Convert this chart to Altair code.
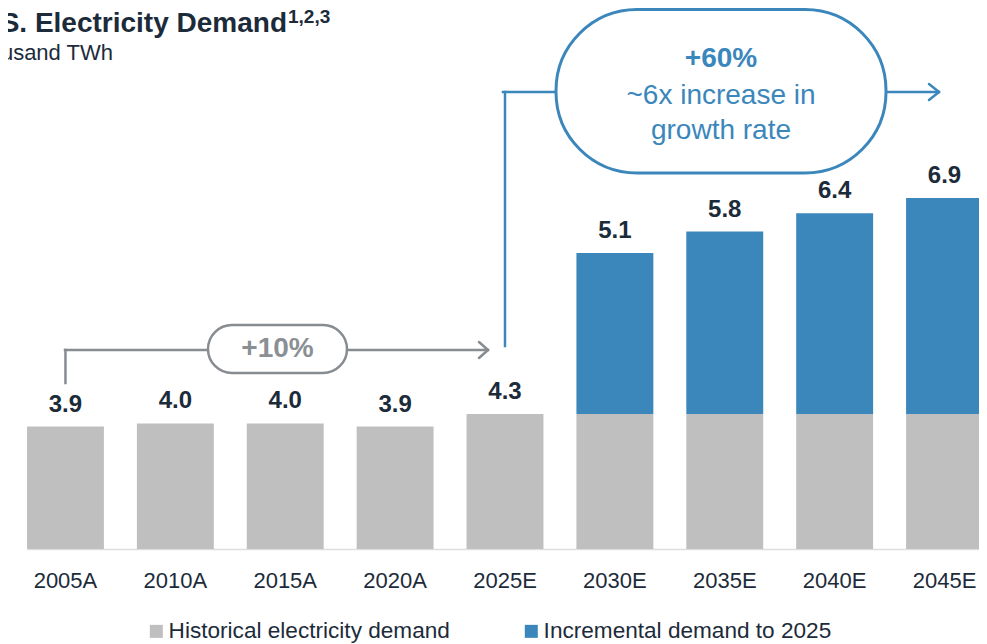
import altair as alt
import pandas as pd

# ---- data ----
years = ["2005A", "2010A", "2015A", "2020A", "2025E", "2030E", "2035E", "2040E", "2045E"]
totals = [3.9, 4.0, 4.0, 3.9, 4.3, 5.1, 5.8, 6.4, 6.9]
base_2025 = 4.3
series = ["Historical electricity demand", "Incremental demand to 2025"]
series_colors = ["#bfbfbf", "#3b87bb"]

# the source chart is not drawn to a single linear scale: piecewise scale breakpoints
y_domain = [0, 4.3, 5.1, 6.9]
y_range = [541, 406, 245, 190]

F = "Liberation Sans"
NAVY = "#1c2b3a"
GRAY = "#878c91"
BLUE = "#3b87bb"

rows = []
for yr, t in zip(years, totals):
    h = min(t, base_2025)
    rows.append({"year": yr, "series": series[0], "start": 0.0, "end": h})
    if t > base_2025:
        rows.append({"year": yr, "series": series[1], "start": base_2025, "end": t})
seg = pd.DataFrame(rows)
lab = pd.DataFrame({"year": years, "total": totals})
one = pd.DataFrame({"k": [0]})

xscale = alt.Scale(range=[19, 975], paddingInner=0.3, paddingOuter=0, round=False)
yscale = alt.Scale(domain=y_domain, range=y_range, zero=False, nice=False)

X = alt.X("year:N", sort=years, scale=xscale,
          axis=alt.Axis(title=None, labelAngle=0, ticks=False, tickSize=0, labelPadding=21,
                        labelFontSize=22, labelFont=F, labelColor=NAVY,
                        domainColor="#dedede", domainWidth=1.5, grid=False))

bars = alt.Chart(seg).mark_bar().encode(
    x=X,
    y=alt.Y("start:Q", scale=yscale, axis=None),
    y2="end:Q",
    color=alt.Color("series:N",
                    scale=alt.Scale(domain=series, range=series_colors),
                    legend=alt.Legend(orient="none", legendX=137, legendY=612,
                                      direction="horizontal", title=None,
                                      symbolType="square", symbolSize=169,
                                      symbolStrokeWidth=0, labelFontSize=22.6,
                                      labelFont=F, labelColor=NAVY,
                                      columnPadding=70, labelOffset=1,
                                      labelLimit=600, padding=0)),
)

labels = alt.Chart(lab).mark_text(
    dy=-15, baseline="alphabetic", fontSize=24, fontWeight="bold", font=F, color=NAVY
).encode(
    x=alt.X("year:N", sort=years),
    y=alt.Y("total:Q"),
    text=alt.Text("total:Q", format=".1f"),
)


def rule(color, x1, x2, y1, y2, cap="square"):
    return alt.Chart(one).mark_rule(color=color, strokeWidth=2.5, strokeCap=cap).encode(
        x=alt.value(x1), x2=alt.value(x2), y=alt.value(y1), y2=alt.value(y2))


def vrule(color, year, y1, y2):
    return alt.Chart(pd.DataFrame({"year": [year]})).mark_rule(
        color=color, strokeWidth=2.5, strokeCap="square").encode(
        x=alt.X("year:N", sort=years), y=alt.value(y1), y2=alt.value(y2))


def pill(color, x1, x2, y1, y2, r, sw):
    return alt.Chart(one).mark_rect(cornerRadius=r, fill="white", stroke=color,
                                    strokeWidth=sw).encode(
        x=alt.value(x1), x2=alt.value(x2), y=alt.value(y1), y2=alt.value(y2))


def txt(s, x, y, size, color, weight="normal", align="center"):
    return alt.Chart(one).mark_text(text=s, align=align, baseline="alphabetic",
                                    fontSize=size, fontWeight=weight, font=F,
                                    color=color).encode(x=alt.value(x), y=alt.value(y))


annot = [
    # +10% bracket
    vrule(GRAY, "2005A", 375, 342),
    rule(GRAY, 57, 200, 342, 342),
    rule(GRAY, 339, 480, 342, 342),
    rule(GRAY, 471, 480, 334, 342, "round"),
    rule(GRAY, 471, 480, 350, 342, "round"),
    pill(GRAY, 200, 339, 317, 365, 24, 2.5),
    txt("+10%", 269.5, 349, 28, "#8a8f94", "bold"),
    # +60% bracket
    vrule(BLUE, "2025E", 338, 84),
    rule(BLUE, 495, 548, 84, 84),
    rule(BLUE, 878, 931, 84, 84),
    rule(BLUE, 921, 931, 76, 84, "round"),
    rule(BLUE, 921, 931, 92, 84, "round"),
    pill(BLUE, 548, 878, 1.5, 165, 81, 3),
    txt("+60%", 713, 59, 28, BLUE, "bold"),
    txt("~6x increase in", 713, 96, 28, BLUE),
    txt("growth rate", 713, 131, 28, BLUE),
    # titles
    txt("S. Electricity Demand", 279, 24, 28, NAVY, "bold", "right"),
    txt("1,2,3", 280, 15, 19, NAVY, "bold", "left"),
    txt("usand TWh", 105, 52, 22, NAVY, "normal", "right"),
]

chart = alt.layer(bars, labels, *annot).properties(
    width=971, height=541,
    autosize=alt.AutoSizeParams(type="none"),
    padding={"left": 0, "right": 0, "top": 0, "bottom": 95},
    background="white",
).configure_view(stroke=None)

chart.save("out.html", embed_options={"renderer": "svg", "actions": False})
